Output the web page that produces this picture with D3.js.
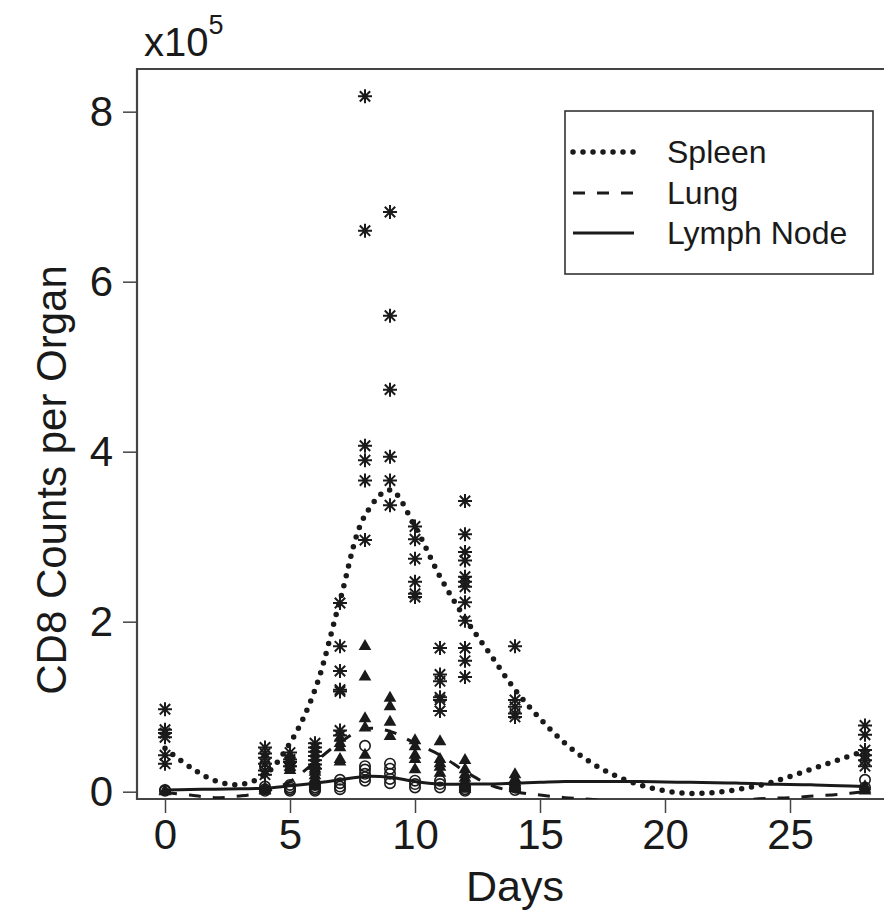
<!DOCTYPE html>
<html>
<head>
<meta charset="utf-8">
<script src="https://cdn.jsdelivr.net/npm/d3@7"></script>
<style>
  html, body { margin: 0; padding: 0; background: #fff; }
  svg { display: block; font-family: "Liberation Sans", Arial, Helvetica, sans-serif; }
</style>
</head>
<body>
<svg id="chart" width="884" height="914"></svg>
<script>
// ---- data (counts in units of 10^5) ----
const xTicks = [0, 5, 10, 15, 20, 25];
const yTicks = [0, 2, 4, 6, 8];
const seriesNames = ["Spleen", "Lung", "Lymph Node"];

const spleenObs = [
  [0, [0.97, 0.73, 0.69, 0.64, 0.43, 0.33]],
  [4, [0.52, 0.45, 0.40, 0.33, 0.25, 0.20]],
  [5, [0.46, 0.38, 0.35, 0.30]],
  [6, [0.57, 0.52, 0.47, 0.42, 0.37, 0.32, 0.27]],
  [7, [2.22, 1.71, 1.42, 1.20, 1.18, 0.72, 0.66]],
  [8, [8.18, 6.60, 4.07, 3.90, 3.66, 2.96]],
  [9, [6.82, 5.60, 4.73, 3.94, 3.66, 3.37]],
  [10, [3.12, 2.97, 2.74, 2.47, 2.33, 2.29]],
  [11, [1.69, 1.38, 1.30, 1.11, 1.08, 0.95]],
  [12, [3.42, 3.03, 2.82, 2.72, 2.53, 2.47, 2.41, 2.23, 2.01, 1.69, 1.54, 1.35]],
  [14, [1.71, 1.08, 1.00, 0.92, 0.88]],
  [28, [0.78, 0.67, 0.49, 0.43, 0.37, 0.30]]
];

const lungObs = [
  [0, [0.01, 0.00]],
  [4, [0.04, 0.02, 0.01]],
  [5, [0.42, 0.37, 0.33, 0.29, 0.25]],
  [6, [0.32, 0.27, 0.23, 0.19, 0.15, 0.12, 0.09, 0.06]],
  [7, [0.63, 0.57, 0.52, 0.38, 0.35]],
  [8, [1.71, 1.35, 0.86, 0.75, 0.43]],
  [9, [1.10, 1.00, 0.82, 0.65]],
  [10, [0.60, 0.53, 0.43, 0.38, 0.26]],
  [11, [0.59, 0.38, 0.33, 0.29, 0.22]],
  [12, [0.37, 0.26, 0.20, 0.16, 0.12, 0.09, 0.06, 0.03]],
  [14, [0.20, 0.15, 0.11, 0.07, 0.04]],
  [28, [0.06, 0.03, 0.01]]
];

const lymphObs = [
  [0, [0.02, 0.01]],
  [4, [0.30, 0.06, 0.03, 0.01]],
  [5, [0.08, 0.05, 0.03, 0.01]],
  [6, [0.08, 0.05, 0.03, 0.01]],
  [7, [0.14, 0.10, 0.06, 0.03]],
  [8, [0.54, 0.30, 0.26, 0.21, 0.17, 0.13]],
  [9, [0.33, 0.27, 0.21, 0.15, 0.10]],
  [10, [0.13, 0.09, 0.05]],
  [11, [0.13, 0.09, 0.05]],
  [12, [0.06, 0.03, 0.01]],
  [14, [0.05, 0.02]],
  [28, [0.14, 0.05]]
];

// smoothed fits at each day
const smoothDays = [0,1,2,3,4,5,6,7,8,9,10,11,12,13,14,15,16,17,18,19,20,21,22,23,24,25,26,27,28];
const spleenFit = [0.51,0.29,0.13,0.085,0.20,0.57,1.20,2.25,3.25,3.55,3.12,2.53,2.04,1.62,1.20,0.86,0.57,0.35,0.19,0.08,0.01,-0.02,-0.01,0.03,0.09,0.18,0.28,0.38,0.48];
const lungFit   = [-0.01,-0.04,-0.07,-0.05,0.00,0.12,0.35,0.58,0.74,0.71,0.57,0.43,0.24,0.08,0.00,-0.04,-0.07,-0.09,-0.11,-0.12,-0.13,-0.13,-0.12,-0.10,-0.08,-0.07,-0.05,-0.03,0.00];
const lymphFit  = [0.02,0.025,0.03,0.035,0.04,0.07,0.10,0.14,0.18,0.17,0.12,0.09,0.09,0.09,0.10,0.11,0.12,0.12,0.12,0.12,0.115,0.11,0.105,0.10,0.09,0.085,0.08,0.07,0.06];

// ---- drawing ----
const svg = d3.select("#chart");
const W = 884, H = 914;
const plot = { left: 137, right: 893, top: 69, bottom: 799 };
const ink = "#1a1a1a";

svg.append("rect").attr("width", W).attr("height", H).attr("fill", "#fff");

const x = d3.scaleLinear().domain([-1.12, 29.12]).range([plot.left, plot.right]);
const y = d3.scaleLinear().domain([-0.086, 8.502]).range([plot.bottom, plot.top]);

svg.append("defs").append("clipPath").attr("id", "clip")
  .append("rect").attr("x", plot.left).attr("y", plot.top)
  .attr("width", plot.right - plot.left).attr("height", plot.bottom - plot.top);

// axes
const xAxis = d3.axisBottom(x).tickValues(xTicks).tickSize(14).tickPadding(6).tickSizeOuter(0);
const yAxis = d3.axisLeft(y).tickValues(yTicks).tickSize(14).tickPadding(10).tickSizeOuter(0);

const gx = svg.append("g").attr("transform", `translate(0,${plot.bottom})`).call(xAxis);
const gy = svg.append("g").attr("transform", `translate(${plot.left},0)`).call(yAxis);
[gx, gy].forEach(g => {
  g.select(".domain").remove();
  g.selectAll(".tick line").attr("stroke", "#444").attr("stroke-width", 1.5);
  g.selectAll(".tick text").attr("fill", ink).attr("font-size", 42)
    .attr("font-family", "'Liberation Sans', Arial, sans-serif");
});

// frame (right side falls outside the picture)
svg.append("path")
  .attr("d", `M${plot.right},${plot.top}H${plot.left}V${plot.bottom}H${plot.right}`)
  .attr("fill", "none").attr("stroke", "#444").attr("stroke-width", 2.2);

// axis titles
svg.append("text").attr("x", (plot.left + plot.right) / 2).attr("y", 901)
  .attr("text-anchor", "middle").attr("font-size", 43).attr("fill", ink).text("Days");
svg.append("text").attr("transform", `translate(66,480) rotate(-90)`)
  .attr("text-anchor", "middle").attr("font-size", 42).attr("fill", ink).text("CD8 Counts per Organ");
const sci = svg.append("text").attr("x", 144).attr("y", 56).attr("font-size", 40).attr("fill", ink);
sci.append("tspan").text("x10");
sci.append("tspan").attr("dy", -22).attr("font-size", 27).text("5");

// fitted curves
const g = svg.append("g").attr("clip-path", "url(#clip)");
const line = d3.line().x((d, i) => x(smoothDays[i])).y(d => y(d)).curve(d3.curveCatmullRom);
const lineStyles = [
  { data: spleenFit, dash: "0,10", width: 5.5, cap: "round" },
  { data: lungFit, dash: "12,12", width: 3, cap: "butt" },
  { data: lymphFit, dash: null, width: 3, cap: "butt" }
];
lineStyles.forEach(s => {
  g.append("path").attr("d", line(s.data)).attr("fill", "none").attr("stroke", ink)
    .attr("stroke-width", s.width).attr("stroke-linecap", s.cap)
    .attr("stroke-dasharray", s.dash);
});

// points
function flatten(obs) {
  const out = [];
  obs.forEach(([day, vals]) => vals.forEach(v => out.push([day, v])));
  return out;
}
const r = 7, dd = 5.2;
const starPath = `M${-r},0L${r},0M0,${-r}L0,${r}M${-dd},${-dd}L${dd},${dd}M${-dd},${dd}L${dd},${-dd}`;

g.append("g").selectAll("path").data(flatten(lungObs)).join("path")
  .attr("transform", d => `translate(${x(d[0])},${y(d[1])})`)
  .attr("d", d3.symbol(d3.symbolTriangle, 70)())
  .attr("fill", ink);

g.append("g").selectAll("circle").data(flatten(lymphObs)).join("circle")
  .attr("cx", d => x(d[0])).attr("cy", d => y(d[1])).attr("r", 5.2)
  .attr("fill", "none").attr("stroke", ink).attr("stroke-width", 1.6);

g.append("g").selectAll("path").data(flatten(spleenObs)).join("path")
  .attr("transform", d => `translate(${x(d[0])},${y(d[1])})`)
  .attr("d", starPath).attr("fill", "none").attr("stroke", ink).attr("stroke-width", 2);

// legend
const lg = svg.append("g");
lg.append("rect").attr("x", 565).attr("y", 111).attr("width", 308).attr("height", 163)
  .attr("fill", "#fff").attr("stroke", "#333").attr("stroke-width", 1.6);
const legendY = [152, 193, 233];
seriesNames.forEach((name, i) => {
  const s = lineStyles[i];
  lg.append("line").attr("x1", 573).attr("x2", 634).attr("y1", legendY[i]).attr("y2", legendY[i])
    .attr("stroke", ink).attr("stroke-width", s.width).attr("stroke-linecap", s.cap)
    .attr("stroke-dasharray", s.dash);
  lg.append("text").attr("x", 667).attr("y", legendY[i] + 11).attr("font-size", 32)
    .attr("fill", ink).text(name);
});
</script>
</body>
</html>
